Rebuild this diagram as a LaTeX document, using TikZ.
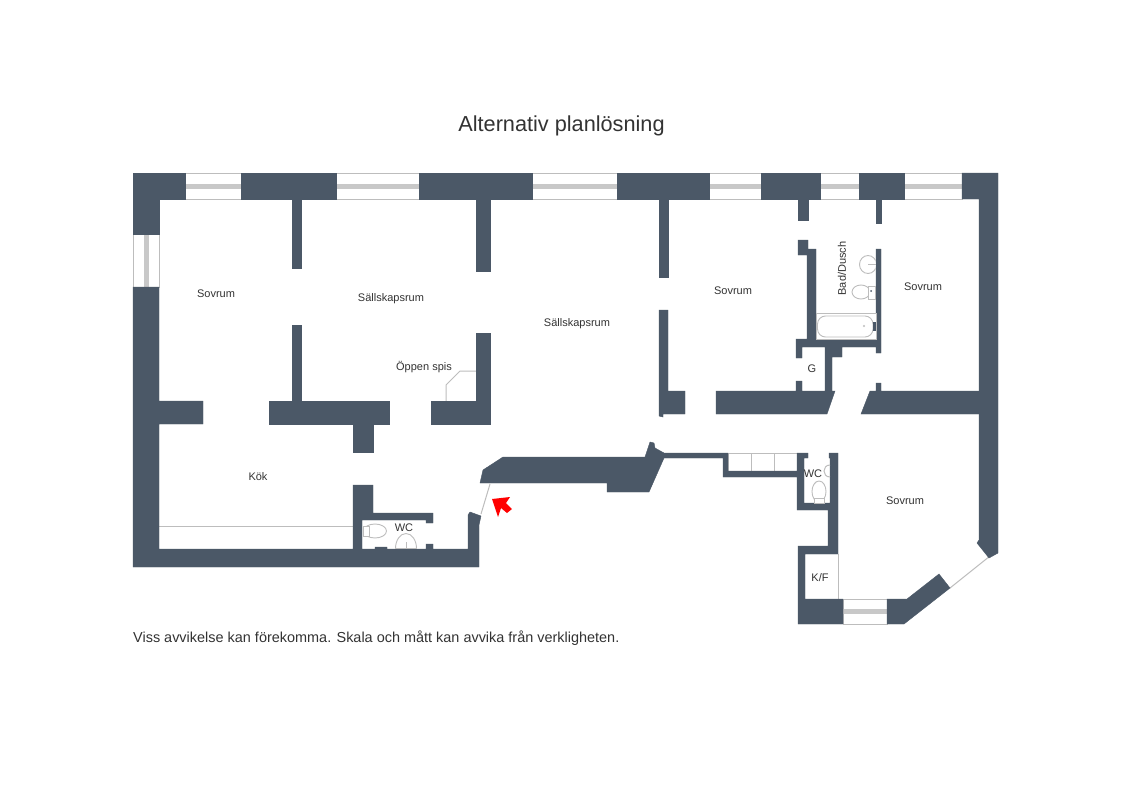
\documentclass[tikz,border=0pt]{standalone}
\usepackage{fontspec}
\setmainfont{Liberation Sans}
\definecolor{wallc}{HTML}{4B5867}
\definecolor{linec}{HTML}{BDBDBD}
\definecolor{bandc}{HTML}{C8C8C8}
\definecolor{textc}{HTML}{333333}
\tikzset{
  wall/.style={fill=wallc,draw=wallc,line width=0.4pt,line join=miter},
  fixture/.style={draw=linec,line width=0.9pt,fill=white},
  thin line/.style={draw=linec,line width=1pt},
  roomlabel/.style={text=textc,font=\fontsize{11}{13}\selectfont,inner sep=0pt},
  band/.style={draw=none,fill=bandc},
  winbox/.style={draw=linec,line width=1pt,fill=white},
}
\newcommand{\hwin}[5]{% name, x1, x2, y1, y2
  \path[winbox] (#2,#4) rectangle (#3,#5);
  \path[band] (#2,{(#4+#5)/2-2.5}) rectangle (#3,{(#4+#5)/2+2.5});
}
\begin{document}
\begin{tikzpicture}[x=1pt,y=-1pt]
\useasboundingbox[fill=white] (0,0) rectangle (1130,798);

% windows
\hwin{w1}{185}{241}{173}{199}
\hwin{w2}{336}{419}{173}{199}
\hwin{w3}{532}{617}{173}{199}
\hwin{w4}{709}{761}{173}{199}
\hwin{w5}{820}{859}{173}{199}
\hwin{w6}{904}{962}{173}{199}
\hwin{w7}{843}{887}{599}{624}
\path[winbox] (133,234) rectangle (159,287);
\path[band] (143.5,234) rectangle (148.5,287);

% thin lines
\draw[thin line] (159,526) -- (353,526);
\draw[thin line] (490,484) -- (481,514);
\draw[thin line] (446,401) -- (446,385) -- (460,371) -- (476,371);
\draw[thin line] (950,588) -- (990,556);
\draw[thin line] (838,554) -- (838,599) -- (843,599);
\draw[thin line] (728,453) rectangle (797,471);
\draw[thin line] (751,453) -- (751,471);
\draw[thin line] (774,453) -- (774,471);

% outer walls: top, left, bottom
\path[wall] (133,173) -- (185,173) -- (185,199) -- (159,199) -- (159,234) -- (133,234) -- cycle;
\path[wall] (241,173) rectangle (336,199);
\path[wall] (419,173) rectangle (532,199);
\path[wall] (617,173) rectangle (709,199);
\path[wall] (761,173) rectangle (820,199);
\path[wall] (859,173) rectangle (904,199);
\path[wall] (962,173) -- (998,173) -- (998,553) -- (989,558) -- (977,543) -- (979,540) -- (979,199) -- (962,199) -- cycle;
\path[wall] (133,287) -- (159,287) -- (159,401) -- (203,401) -- (203,424) -- (159,424) -- (159,549)
  -- (353,549) -- (353,485) -- (373,485) -- (373,513) -- (433,513) -- (433,523) -- (426,523) -- (426,520) -- (362,520) -- (362,549)
  -- (375,549) -- (375,547) -- (387,547) -- (387,549) -- (426,549) -- (426,544) -- (433,544) -- (433,549)
  -- (468,549) -- (468,515) -- (470,512) -- (481,516) -- (479,525) -- (479,567) -- (133,567) -- cycle;

% partitions left
\path[wall] (292,199) rectangle (301,268);
\path[wall] (292,325) rectangle (301,401);
\path[wall] (269,401) -- (389,401) -- (389,424) -- (373,424) -- (373,452) -- (353,452) -- (353,424) -- (269,424) -- cycle;
\path[wall] (476,199) rectangle (490,271);
\path[wall] (476,333) -- (490,333) -- (490,424) -- (431,424) -- (431,401) -- (476,401) -- cycle;
\path[wall] (659,199) rectangle (668,277);
\path[wall] (659,310) -- (668,310) -- (668,391) -- (685,391) -- (685,414) -- (663,414) -- (663,417) -- (659,416) -- cycle;

% central wall
\path[wall] (480,483) -- (483,470) -- (503,457) -- (645,457) -- (650,442) -- (654,443) -- (655,448) -- (664,453)
  -- (728,453) -- (728,471) -- (797,471) -- (797,453) -- (808,453) -- (808,458) -- (804,458) -- (804,503)
  -- (830,503) -- (830,458) -- (829,458) -- (829,453) -- (838,453) -- (838,554) -- (805,554) -- (805,599)
  -- (843,599) -- (843,624) -- (798,624) -- (798,546) -- (828,546) -- (828,510) -- (797,510) -- (797,477)
  -- (723,477) -- (723,458) -- (664,458) -- (649,492) -- (607,492) -- (607,483) -- cycle;

% lower right block
\path[wall] (887,599) -- (907,599) -- (939,574) -- (950,588) -- (904,624) -- (887,624) -- cycle;

% upper right walls
\path[wall] (716,391) -- (796,391) -- (796,381) -- (802,381) -- (802,391) -- (825,391) -- (825,347) -- (802,347) -- (802,358) -- (796,358) -- (796,339)
  -- (807,339) -- (807,255) -- (798,255) -- (798,240) -- (808,240) -- (808,249) -- (816,249) -- (816,339)
  -- (876,339) -- (876,249) -- (881,249) -- (881,353) -- (876,353) -- (876,347) -- (842,347) -- (842,357) -- (832,357) -- (832,391)
  -- (835,391) -- (827,414) -- (716,414) -- cycle;
\path[wall] (798,199) rectangle (808,220);
\path[wall] (876,199) rectangle (881,223);
\path[wall] (876,383) -- (881,383) -- (881,391) -- (979,391) -- (979,414) -- (861,414) -- (870,391) -- (876,391) -- cycle;

% fixtures: bath
\path[thin line,fill=white] (816,313) rectangle (876,339);
\path[fixture,rounded corners=8pt] (817.5,316) rectangle (873,337);
\fill[linec] (864,326) circle (1.2);
\fill[wallc] (872.5,322) rectangle (876,331);
\begin{scope}
  \clip (850,250) rectangle (875.5,300);
  \path[fixture] (868,264.5) ellipse (8.5 and 9);
\end{scope}
\draw[thin line] (868,264.5) -- (876,264.5);
\path[fixture] (861,292) ellipse (9 and 7);
\path[fixture] (868,286) rectangle (875.5,299);
\fill[wallc] (871,291) circle (1);
% fixtures: WC by the entrance
\path[fixture] (375,531) ellipse (11.5 and 7);
\path[fixture] (363,526) rectangle (369,536);
\path[fixture] (395.5,548.5) arc (180:360:10.5 and 15) -- cycle;
\draw[thin line] (406,542) -- (406,548);
% fixtures: WC by the stairs
\path[fixture] (819,491.5) ellipse (7 and 10.5);
\path[fixture] (814,498) rectangle (824,503);
\draw[thin line] (830,465) .. controls (822,465) and (822,477) .. (830,477);

% red arrow
\path[fill=red] (492,499) -- (510,497) -- (506,503) -- (512,509) -- (507,513) -- (501,508) -- (498,517) -- cycle;

% labels
\node[font=\fontsize{21.7}{25}\selectfont,text=textc,inner sep=0pt] (title) at (561.5,126) {Alternativ planlösning};
\node[font=\fontsize{14.45}{17}\selectfont,text=textc,inner sep=0pt,anchor=west] (note) at (133,638) {Viss avvikelse kan förekomma. Skala och mått kan avvika från verkligheten.};
\node[roomlabel] (r1) at (216,294) {Sovrum};
\node[roomlabel] (r2) at (391,299) {Sällskapsrum};
\node[roomlabel] (r3) at (577,324) {Sällskapsrum};
\node[roomlabel] (r4) at (424,367) {Öppen spis};
\node[roomlabel] (r5) at (258,477) {Kök};
\node[roomlabel] (r6) at (404,528) {WC};
\node[roomlabel] (r7) at (733,291) {Sovrum};
\node[roomlabel,rotate=90] (r8) at (842,268.5) {Bad/Dusch};
\node[roomlabel] (r9) at (923,287) {Sovrum};
\node[roomlabel] (r10) at (812,369) {G};
\node[roomlabel] (r11) at (813,474) {WC};
\node[roomlabel] (r12) at (905,501) {Sovrum};
\node[roomlabel] (r13) at (820,578) {K/F};
\end{tikzpicture}
\end{document}
